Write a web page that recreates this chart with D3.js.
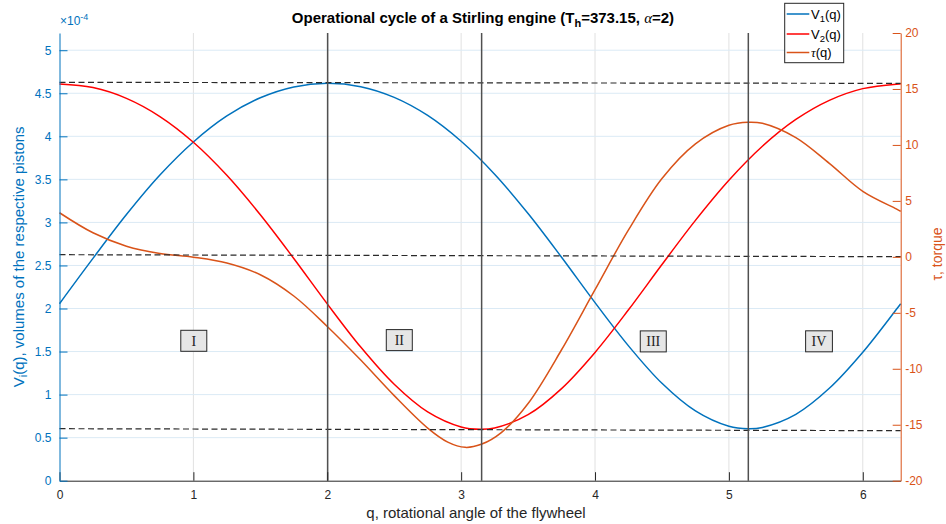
<!DOCTYPE html>
<html><head><meta charset="utf-8">
<script src="https://cdn.jsdelivr.net/npm/d3@7"></script>
<style>
body{margin:0;background:#fff}
svg{display:block}
text{font-family:"Liberation Sans",Arial,Helvetica,sans-serif}
</style>
</head><body>
<svg id="chart" width="946" height="524"></svg>
<script>
// ---- data (volumes in units of 1e-4, torque in its own units) ----
const v1Q   = [0, 0.25, 0.5, 0.75, 1.0, 1.25, 1.5, 1.75, 2.0, 2.25, 2.5, 2.75, 3.0, 3.25, 3.5, 3.75, 4.0, 4.25, 4.5, 4.75, 5.0, 5.145, 5.25, 5.5, 5.75, 6.0, 6.25, 6.2832];
const v1Val = [2.056, 2.582, 3.091, 3.550, 3.934, 4.236, 4.448, 4.574, 4.616, 4.576, 4.452, 4.242, 3.942, 3.560, 3.103, 2.595, 2.068, 1.566, 1.131, 0.810, 0.632, 0.604, 0.619, 0.771, 1.073, 1.492, 1.988, 2.056];
const v2Q   = [0, 0.25, 0.5, 0.75, 1.0, 1.25, 1.5, 1.75, 2.0, 2.25, 2.5, 2.75, 3.0, 3.142, 3.25, 3.5, 3.75, 4.0, 4.25, 4.5, 4.75, 5.0, 5.25, 5.5, 5.75, 6.0, 6.25, 6.2832];
const v2Val = [4.607, 4.566, 4.441, 4.230, 3.931, 3.547, 3.089, 2.581, 2.054, 1.552, 1.120, 0.799, 0.624, 0.597, 0.613, 0.767, 1.070, 1.490, 1.985, 2.511, 3.024, 3.490, 3.885, 4.196, 4.418, 4.554, 4.606, 4.607];
const tauQ   = [0, 0.25, 0.5, 0.75, 1.0, 1.25, 1.5, 1.75, 2.0, 2.25, 2.5, 2.75, 2.9, 3.03, 3.15, 3.3, 3.5, 3.75, 4.0, 4.25, 4.5, 4.75, 5.0, 5.145, 5.25, 5.5, 5.75, 6.0, 6.25, 6.2832];
const tauVal = [3.94, 2.15, 0.95, 0.30, -0.03, -0.55, -1.6, -3.5, -6.22, -9.22, -12.4, -15.3, -16.55, -17.02, -16.75, -15.7, -13.1, -8.3, -2.93, 2.41, 7.0, 10.1, 11.76, 12.03, 11.93, 10.65, 8.35, 5.85, 4.28, 4.06];

const qTicks   = [0, 1, 2, 3, 4, 5, 6];
const volTicks = [0, 0.5, 1, 1.5, 2, 2.5, 3, 3.5, 4, 4.5, 5];
const tauTicks = [-20, -15, -10, -5, 0, 5, 10, 15, 20];
const qDomain   = [0, 2 * Math.PI];
const volDomain = [0, 5.2];
const tauDomain = [-20, 20];

const phaseLines = [2.003, 3.153, 5.145];                     // vertical separators
const dashStart  = [4.627, 2.625, 0.604];                      // dashed guides, value at q=0
const dashEnd    = [4.615, 2.602, 0.581];                      // dashed guides, value at q=2pi
const regionLabels = ["I", "II", "III", "IV"];
const regionQ      = [1.003, 2.538, 4.435, 5.673];
const regionV      = [1.625, 1.633, 1.618, 1.619];

const seriesNames = ["V1", "V2", "tau"];

// ---- layout ----
const L = 59.5, R = 900.7, T = 33, B = 480.7;
const cBlue = "#0072BD", cRed = "#FF0000", cOrange = "#D95319", cAxis = "#262626";

const svg = d3.select("#chart");
const x  = d3.scaleLinear().domain(qDomain).range([L, R]);
const yL = d3.scaleLinear().domain(volDomain).range([B, T]);
const yR = d3.scaleLinear().domain(tauDomain).range([B, T]);

// grid
const grid = svg.append("g");
grid.selectAll(".gx").data(qTicks.filter(d => d > 0)).join("line")
  .attr("x1", d => x(d)).attr("x2", d => x(d)).attr("y1", T).attr("y2", B)
  .attr("stroke", "#e1e1e1").attr("stroke-width", 1);
grid.selectAll(".gy").data(volTicks.filter(d => d > 0)).join("line")
  .attr("x1", L).attr("x2", R).attr("y1", d => yL(d)).attr("y2", d => yL(d))
  .attr("stroke", "#dbeaf5").attr("stroke-width", 1);

// curves
const curve = d3.curveCatmullRom.alpha(0.5);
const lineL = (qs, vs) => d3.line().x((d, i) => x(qs[i])).y(d => yL(d)).curve(curve)(vs);
const lineR = (qs, vs) => d3.line().x((d, i) => x(qs[i])).y(d => yR(d)).curve(curve)(vs);
svg.append("path").attr("d", lineL(v1Q, v1Val)).attr("fill", "none").attr("stroke", cBlue).attr("stroke-width", 1.5);
svg.append("path").attr("d", lineL(v2Q, v2Val)).attr("fill", "none").attr("stroke", cRed).attr("stroke-width", 1.5);
svg.append("path").attr("d", lineR(tauQ, tauVal)).attr("fill", "none").attr("stroke", cOrange).attr("stroke-width", 1.5);

// dashed guides
svg.selectAll(".dash").data(dashStart).join("line")
  .attr("x1", x(qDomain[0])).attr("x2", x(qDomain[1]))
  .attr("y1", d => yL(d)).attr("y2", (d, i) => yL(dashEnd[i]))
  .attr("stroke", "#2a2a2a").attr("stroke-width", 1.2).attr("stroke-dasharray", "6,3.5");

// vertical phase lines
svg.selectAll(".ph").data(phaseLines).join("line")
  .attr("x1", d => x(d)).attr("x2", d => x(d)).attr("y1", T).attr("y2", B)
  .attr("stroke", "#505050").attr("stroke-width", 1.5);

// region labels
const rl = svg.append("g").selectAll("g").data(regionLabels).join("g")
  .attr("transform", (d, i) => `translate(${x(regionQ[i])},${yL(regionV[i])})`);
rl.append("rect");
rl.append("text").text(d => d)
  .attr("text-anchor", "middle").attr("dy", "0.35em")
  .style("font-family", "'Liberation Serif','Times New Roman',serif").style("font-size", "14px").attr("fill", "#222");
rl.each(function() {
  const g = d3.select(this);
  const w = Math.max(g.select("text").node().getComputedTextLength() + 12, 26);
  const h = 21;
  g.select("rect").attr("x", -w / 2).attr("y", -h / 2).attr("width", w).attr("height", h)
    .attr("fill", "#e6e6e6").attr("stroke", "#262626").attr("stroke-width", 1);
});

// axes
const axB = svg.append("g").attr("transform", `translate(0,${B})`)
  .call(d3.axisBottom(x).tickValues(qTicks).tickFormat(d => String(d)).tickSize(-8.5).tickSizeOuter(0).tickPadding(10));
axB.selectAll("path,line").attr("stroke", cAxis);
axB.selectAll("text").attr("fill", cAxis).style("font-size", "12px");

const axL = svg.append("g").attr("transform", `translate(${L},0)`)
  .call(d3.axisLeft(yL).tickValues(volTicks).tickFormat(d => String(d)).tickSize(-8).tickSizeOuter(0).tickPadding(8));
axL.selectAll("path,line").attr("stroke", cBlue);
axL.selectAll("text").attr("fill", cBlue).style("font-size", "12px");

const axR = svg.append("g").attr("transform", `translate(${R},0)`)
  .call(d3.axisRight(yR).tickValues(tauTicks).tickFormat(d => String(d)).tickSize(-8).tickSizeOuter(0).tickPadding(4.5));
axR.selectAll("path,line").attr("stroke", cOrange);
axR.selectAll("text").attr("fill", cOrange).style("font-size", "12px");
svg.selectAll(".domain").attr("stroke-width", 1);

// exponent label
const ex = svg.append("text").attr("x", 60).attr("y", 25).attr("fill", cBlue).style("font-size", "12px");
ex.append("tspan").text("\u00d710");
ex.append("tspan").attr("dy", -5).style("font-size", "9px").text("-4");

// title
const title = svg.append("text").attr("x", 483).attr("y", 22.5).attr("text-anchor", "middle")
  .style("font-size", "15px").style("font-weight", "bold").attr("fill", "#000");
title.append("tspan").text("Operational cycle of a Stirling engine (T");
title.append("tspan").attr("dy", 4).style("font-size", "11px").text("h");
title.append("tspan").attr("dy", -4).text("=373.15, ");
title.append("tspan").style("font-family", "'Liberation Serif',serif").style("font-style", "italic").style("font-weight", "normal").text("\u03b1");
title.append("tspan").text("=2)");

// x label
svg.append("text").attr("x", 476).attr("y", 518).attr("text-anchor", "middle")
  .attr("fill", cAxis).style("font-size", "15px").text("q, rotational angle of the flywheel");

// left y label
const yl = svg.append("text").attr("transform", `translate(23.5,${(T + B) / 2}) rotate(-90)`)
  .attr("text-anchor", "middle").attr("fill", cBlue).style("font-size", "15px");
yl.append("tspan").text("V");
yl.append("tspan").attr("dy", 3).style("font-size", "11px").text("i");
yl.append("tspan").attr("dy", -3).text("(q), volumes of the respective pistons");

// right y label
svg.append("text").attr("transform", `translate(942,254) rotate(-90)`)
  .attr("text-anchor", "middle").attr("fill", cOrange).style("font-size", "14px").text("\u03c4, torque");

// legend
const lg = svg.append("g");
lg.append("rect").attr("x", 784.7).attr("y", 3.3).attr("width", 59).attr("height", 59.4)
  .attr("fill", "#fff").attr("stroke", "#262626").attr("stroke-width", 1);
const legColors = [cBlue, cRed, cOrange];
const legY = [14, 34, 52.5];
const items = lg.selectAll(".li").data(seriesNames).join("g").attr("transform", (d, i) => `translate(0,${legY[i]})`);
items.append("line").attr("x1", 786.7).attr("x2", 809.3).attr("y1", 0).attr("y2", 0)
  .attr("stroke", (d, i) => legColors[i]).attr("stroke-width", 1.5);
const lt = items.append("text").attr("x", 811).attr("y", 4.5).attr("fill", "#000").style("font-size", "13px");
lt.each(function(d) {
  const t = d3.select(this);
  if (d === "tau") { t.append("tspan").style("font-family", "'Liberation Serif',serif").style("font-style", "italic").text("\u03c4"); t.append("tspan").text("(q)"); }
  else { t.append("tspan").text("V"); t.append("tspan").attr("dy", 3).style("font-size", "9.5px").text(d.slice(1)); t.append("tspan").attr("dy", -3).text("(q)"); }
});
</script>
</body></html>
